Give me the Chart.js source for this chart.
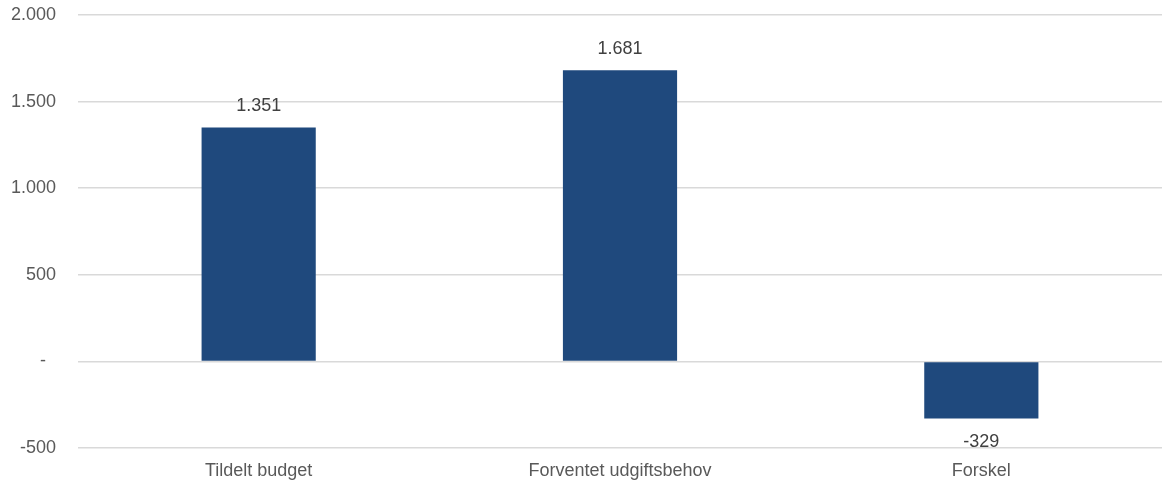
<!DOCTYPE html>
<html>
<head>
<meta charset="utf-8">
<script src="https://cdn.jsdelivr.net/npm/chart.js@4"></script>
<style>
    html, body { margin: 0; padding: 0; background: #fff; }
    #wrap { width: 1162px; height: 481px; }
</style>
</head>
<body>
<div id="wrap"><canvas id="graph"></canvas></div>
<script>
let categories = ['Tildelt budget', 'Forventet udgiftsbehov', 'Forskel']
let values = [1351, 1681, -329]
let tickValues = [-500, 0, 500, 1000, 1500, 2000]

// dansk format, nul vises som "-" (regnskabsformat)
let fmt = v => v === 0 ? '-  ' : v.toLocaleString('da-DK')
let fontFamily = '"Liberation Sans", Arial, sans-serif'

let barLabels = {
    id: 'barLabels',
    afterDatasetsDraw(chart) {
        let ctx = chart.ctx
        let meta = chart.getDatasetMeta(0)
        ctx.save()
        ctx.font = '18px ' + fontFamily
        ctx.fillStyle = '#404040'
        ctx.textAlign = 'center'
        ctx.textBaseline = 'middle'
        meta.data.forEach((bar, i) => {
            let v = values[i]
            let y = v >= 0 ? bar.y - 21 : bar.y + 24
            ctx.fillText(fmt(v), bar.x, y)
        })
        ctx.restore()
    }
}

let graph = document.getElementById('graph').getContext('2d')

new Chart(graph, {
    type: 'bar',
    data: {
        labels: categories,
        datasets: [
            {
                data: values,
                backgroundColor: '#1F497D',
                categoryPercentage: 1,
                barPercentage: 0.316,
            }
        ]
    },
    options: {
        responsive: true,
        maintainAspectRatio: false,
        animation: false,
        layout: { padding: { top: 15, right: 0, left: 0, bottom: 0 } },
        plugins: {
            legend: { display: false },
            tooltip: { enabled: false },
        },
        scales: {
            x: {
                grid: { display: false },
                border: { display: false },
                ticks: {
                    color: '#595959',
                    font: { family: fontFamily, size: 18 },
                    padding: 4,
                },
                afterFit(scale) {
                    scale.height = 33
                    scale.paddingLeft = 0
                    scale.paddingRight = 0
                },
            },
            y: {
                min: -500,
                max: 2000,
                afterBuildTicks(scale) {
                    scale.ticks = tickValues.map(v => ({ value: v }))
                },
                grid: { color: '#d9d9d9', lineWidth: 1.5, drawTicks: false },
                border: { display: false },
                ticks: {
                    color: '#595959',
                    font: { family: fontFamily, size: 18 },
                    padding: 22,
                    callback: v => fmt(v),
                },
                afterFit(scale) {
                    scale.width = 78
                    scale.paddingTop = 0
                    scale.paddingBottom = 0
                },
            }
        }
    },
    plugins: [barLabels]
})
</script>
</body>
</html>
